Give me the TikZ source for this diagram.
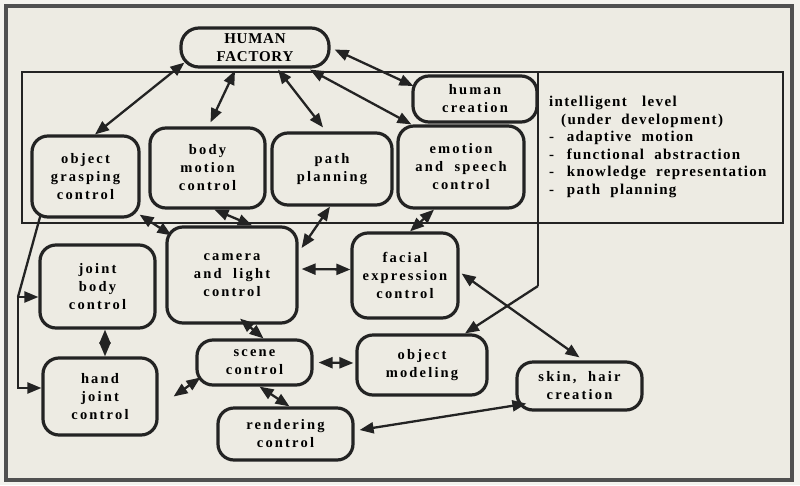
\documentclass[tikz,border=0pt]{standalone}
\usepackage{fontspec}
\setmainfont{Liberation Serif}
\newfontfamily\lbl[LetterSpace=15]{Liberation Serif}
\newfontfamily\hff[LetterSpace=5]{Liberation Serif}
\newfontfamily\ilf[LetterSpace=9]{Liberation Serif}
\usetikzlibrary{arrows.meta,calc}
\definecolor{ink}{HTML}{232323}
\definecolor{paper}{HTML}{EDEBE3}
\definecolor{margin}{HTML}{F4F3EE}
\definecolor{framec}{HTML}{505050}
\begin{document}
\begin{tikzpicture}[x=1pt,y=-1pt,
  box/.style={draw=ink, line width=3.2pt, rounded corners=16pt, fill=paper, align=center,
    inner sep=0pt, font=\lbl\bfseries\fontsize{14.5}{18}\selectfont},
  link/.style={draw=ink, line width=2.3pt,
    {Triangle[length=14pt,width=11pt]}-{Triangle[length=14pt,width=11pt]}},
  onelink/.style={draw=ink, line width=2.3pt, -{Triangle[length=14pt,width=11pt]}},
  plain/.style={draw=ink, line width=2.3pt}]
\useasboundingbox (0,0) rectangle (800,485);
\fill[margin] (0,0) rectangle (800,485);
\draw[framec, line width=4pt, fill=paper] (6,6) rectangle (792,480);

% intelligent level frame
\node[draw=ink, line width=1.8pt, minimum width=761pt, minimum height=151pt, inner sep=0pt] (il) at (402.5,147.5) {};
\coordinate (d1) at (538,72);
\coordinate (d2) at (538,286);

% nodes
\node[box, rounded corners=18pt, minimum width=148pt, minimum height=39pt, font=\hff\bfseries\fontsize{15}{18}\selectfont] (hf) at (255,47.5) {HUMAN\\FACTORY};
\node[box, minimum width=124pt, minimum height=46pt] (hc) at (475,99) {human\\creation};
\node[box, minimum width=107pt, minimum height=81pt] (ogc) at (85.5,176.5) {object\\grasping\\control};
\node[box, minimum width=115pt, minimum height=80pt] (bmc) at (207.5,168) {body\\motion\\control};
\node[box, minimum width=120pt, minimum height=72pt] (pp) at (332,169) {path\\planning};
\node[box, minimum width=126pt, minimum height=82pt] (esc) at (461,167) {emotion\\and\ \ speech\\control};
\node[box, minimum width=130pt, minimum height=96pt] (clc) at (232,275) {camera\\and\ \ light\\control};
\node[box, minimum width=106pt, minimum height=85pt] (fec) at (405,275.5) {facial\\expression\\control};
\node[box, minimum width=115pt, minimum height=83pt] (jbc) at (97.5,286.5) {joint\\body\\control};
\node[box, minimum width=114pt, minimum height=77pt] (hjc) at (100,396.5) {hand\\joint\\control};
\node[box, minimum width=115pt, minimum height=45pt] (sc) at (254.5,362.5) {scene\\control};
\node[box, minimum width=130pt, minimum height=60pt] (om) at (422,365) {object\\modeling};
\node[box, minimum width=135pt, minimum height=52pt] (rc) at (285.5,434) {rendering\\control};
\node[box, minimum width=125pt, minimum height=48pt] (shc) at (579.5,386) {skin,\ \ hair\\creation};

\node[anchor=north west, align=left, inner sep=0pt,
  font=\ilf\bfseries\fontsize{15}{17.5}\selectfont] (ilt) at (549,96)
  {intelligent\ \ \ level\\
   \hspace{12pt}(under\ \ development)\\
   -\ \ \,adaptive\ \ motion\\
   -\ \ \,functional\ \ abstraction\\
   -\ \ \,knowledge\ \ representation\\
   -\ \ \,path\ \ planning};

% connectors
\draw[link] ([shift={(5,-6)}]hf.south west) -- ([shift={(9.5,0)}]ogc.north);
\draw[link] ([shift={(-20,2)}]hf.south) -- ([shift={(3,-4)}]bmc.north);
\draw[link] ([shift={(23,1)}]hf.south) -- ([shift={(-9,-4)}]pp.north);
\draw[link] ([shift={(4,2)}]hf.east) -- ([shift={(2,-13)}]hc.west);
\draw[link] ([shift={(55,1)}]hf.south) -- ([shift={(15,0)}]esc.north west);
\draw[link] ([shift={(-1,-4)}]ogc.south east) -- ([shift={(6,10)}]clc.north west);
\draw[link] ([shift={(7,0)}]bmc.south) -- ([shift={(20,0)}]clc.north);
\draw[link] ([shift={(-2,0)}]pp.south) -- ([shift={(3,-27)}]clc.east);
\draw[link] ([shift={(-27,0)}]esc.south) -- ([shift={(5,0)}]fec.north);
\draw[link] ([shift={(3,-6)}]clc.east) -- ([shift={(0,-6)}]fec.west);
\draw[link] ([shift={(8,-6)}]clc.south) -- ([shift={(9,0)}]sc.north);
\draw[link] ([shift={(5,15)}]sc.west) -- ([shift={(15,0)}]hjc.east);
\draw[link] ([shift={(5,0)}]sc.east) -- ([shift={(-2,-2)}]om.west);
\draw[link] ([shift={(5,0)}]sc.south) -- ([shift={(4,0)}]rc.north);
\draw[link] ([shift={(5,-4)}]rc.east) -- ([shift={(11,-8)}]shc.south west);
\draw[link] ([shift={(2,-2)}]fec.east) -- ([shift={(0,-3)}]shc.north);
\draw[link] ([shift={(7.5,0)}]jbc.south) -- ([shift={(5,0)}]hjc.north);

\coordinate (l1) at (18,297);
\coordinate (l2) at (18,388);
\draw[plain] ([shift={(10,-3)}]ogc.south west) -- (l1);
\draw[onelink] (l1) -- ([shift={(0,10.5)}]jbc.west);
\draw[onelink] (l1) -- (l2) -- ([shift={(0,-8.5)}]hjc.west);

\draw[plain, line width=1.8pt] (d1) -- (d2);
\draw[onelink] (d2) -- ([shift={(43,0)}]om.north);
\end{tikzpicture}
\end{document}
